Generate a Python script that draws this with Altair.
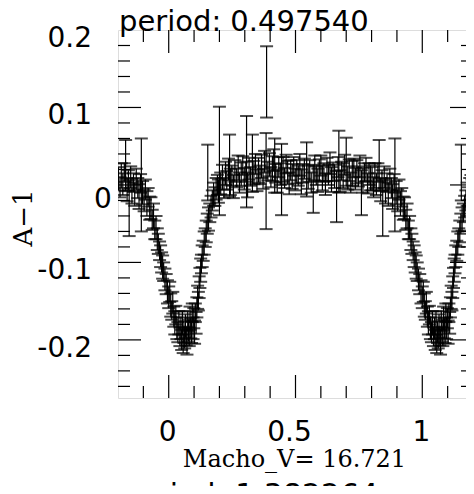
import altair as alt
import pandas as pd

# ---- light-curve data (base phase 0..1), delta-mag and error ----
# eclipse bottom
ph_c = [0.000, 0.004, 0.008, 0.012, 0.016, 0.020, 0.024, 0.028, 0.032, 0.036, 0.040, 0.044,
        0.048, 0.051, 0.054, 0.057, 0.060, 0.063, 0.066, 0.069, 0.072, 0.075, 0.078, 0.081,
        0.084, 0.087, 0.090, 0.093]
dm_c = [-0.145, -0.138, -0.155, -0.162, -0.152, -0.170, -0.178, -0.168, -0.185, -0.190, -0.178, -0.196,
        -0.185, -0.200, -0.178, -0.205, -0.190, -0.198, -0.182, -0.195, -0.203, -0.176, -0.188, -0.196,
        -0.172, -0.185, -0.190, -0.165]
er_c = [0.014, 0.013, 0.015, 0.012, 0.014, 0.013, 0.015, 0.012, 0.014, 0.013, 0.015, 0.012,
        0.014, 0.013, 0.015, 0.012, 0.014, 0.013, 0.015, 0.012, 0.016, 0.013, 0.014, 0.012,
        0.015, 0.013, 0.014, 0.012]
# egress
ph_e = [0.096, 0.099, 0.102, 0.105, 0.108, 0.111, 0.114, 0.117, 0.120, 0.123, 0.126, 0.129, 0.132,
        0.136, 0.140, 0.144, 0.148, 0.152, 0.154, 0.157, 0.162, 0.167, 0.172, 0.177, 0.182, 0.187,
        0.192, 0.196, 0.200]
dm_e = [-0.185, -0.172, -0.190, -0.165, -0.178, -0.158, -0.145, -0.150, -0.132, -0.120, -0.110, -0.102, -0.092,
        -0.085, -0.075, -0.068, -0.060, -0.050, 0.016, -0.044, -0.036, -0.028, -0.020, -0.012, -0.015, -0.005,
        0.000, -0.008, 0.031]
er_e = [0.014, 0.013, 0.015, 0.012, 0.014, 0.013, 0.015, 0.012, 0.014, 0.013, 0.015, 0.012, 0.014,
        0.013, 0.015, 0.012, 0.014, 0.013, 0.036, 0.015, 0.012, 0.014, 0.013, 0.015, 0.012, 0.014,
        0.013, 0.015, 0.070]
# out of eclipse
ph_f = [0.205, 0.212, 0.218, 0.224, 0.229, 0.236, 0.243, 0.249, 0.255, 0.261,
        0.268, 0.274, 0.279, 0.286, 0.292, 0.298, 0.304, 0.311, 0.317, 0.323,
        0.336, 0.342, 0.348, 0.354, 0.360, 0.366, 0.372, 0.378, 0.391, 0.397,
        0.403, 0.409, 0.414, 0.422, 0.428, 0.434, 0.440, 0.451, 0.457, 0.463,
        0.469, 0.475, 0.481, 0.487, 0.493, 0.499, 0.505, 0.511, 0.517, 0.523,
        0.529, 0.535, 0.550, 0.556, 0.562, 0.576, 0.582, 0.588, 0.594, 0.600,
        0.606, 0.612, 0.618, 0.624, 0.630, 0.636, 0.642, 0.648, 0.654, 0.668,
        0.676, 0.682, 0.688, 0.694, 0.706, 0.712, 0.718, 0.724, 0.730, 0.736,
        0.742, 0.748, 0.754, 0.766, 0.772, 0.778, 0.784, 0.790, 0.796]
dm_f = [0.002, 0.010, -0.004, 0.015, 0.006, 0.020, 0.004, 0.012, -0.002, 0.018,
        0.009, 0.022, 0.003, 0.014, 0.025, 0.008, 0.017, 0.000, 0.021, 0.011,
        0.016, 0.027, 0.006, 0.019, 0.013, 0.024, 0.008, 0.030, 0.018, 0.026,
        0.010, 0.021, 0.032, 0.015, 0.005, 0.023, 0.014, 0.020, 0.009, 0.027,
        0.016, 0.002, 0.019, 0.011, 0.024, 0.007, 0.017, 0.012, 0.026, 0.004,
        0.015, 0.021, 0.010, 0.018, 0.003, 0.022, 0.012, 0.006, 0.019, 0.025,
        0.009, 0.016, 0.001, 0.020, 0.013, 0.028, 0.007, 0.017, 0.011, 0.023,
        0.005, 0.018, 0.012, 0.026, 0.009, 0.019, 0.003, 0.015, 0.022, 0.008,
        0.017, 0.011, 0.024, 0.006, 0.016, 0.020, 0.002, 0.014, 0.009]
er_f = [0.014, 0.016, 0.013, 0.015, 0.012, 0.014, 0.017, 0.013, 0.015, 0.014,
        0.012, 0.016, 0.013, 0.015, 0.012, 0.014, 0.013, 0.016, 0.014, 0.012,
        0.015, 0.013, 0.014, 0.016, 0.012, 0.015, 0.013, 0.014, 0.012, 0.015,
        0.013, 0.016, 0.014, 0.012, 0.015, 0.013, 0.014, 0.016, 0.013, 0.012,
        0.015, 0.014, 0.013, 0.016, 0.012, 0.014, 0.015, 0.013, 0.014, 0.016,
        0.012, 0.013, 0.015, 0.014, 0.013, 0.016, 0.012, 0.015, 0.014, 0.013,
        0.016, 0.012, 0.014, 0.015, 0.013, 0.014, 0.016, 0.012, 0.015, 0.013,
        0.014, 0.012, 0.016, 0.013, 0.015, 0.014, 0.013, 0.016, 0.012, 0.014,
        0.015, 0.013, 0.014, 0.016, 0.012, 0.015, 0.013, 0.014, 0.016]
# large-error points
ph_o = [0.240, 0.307, 0.330, 0.384, 0.386, 0.418, 0.445, 0.544, 0.570, 0.662, 0.671, 0.700, 0.760]
dm_o = [0.025, 0.030, 0.028, 0.005, 0.133, 0.025, 0.007, 0.020, -0.005, -0.015, 0.030, 0.030, -0.010]
er_o = [0.040, 0.059, 0.037, 0.062, 0.046, 0.035, 0.046, 0.035, 0.031, 0.033, 0.040, 0.031, 0.029]
# pre-ingress
ph_a = [0.802, 0.808, 0.813, 0.819, 0.825, 0.830, 0.836, 0.841, 0.844, 0.850, 0.855, 0.861,
        0.866, 0.872, 0.878, 0.883, 0.889, 0.892, 0.897, 0.903, 0.908, 0.914, 0.919, 0.925]
dm_a = [0.008, -0.003, 0.012, 0.001, 0.016, 0.025, -0.006, 0.006, -0.030, 0.010, -0.008, 0.003,
        -0.012, 0.007, -0.004, -0.015, 0.002, 0.000, -0.010, -0.020, -0.006, -0.024, -0.016, -0.030]
er_a = [0.015, 0.013, 0.016, 0.014, 0.012, 0.033, 0.015, 0.013, 0.036, 0.014, 0.016, 0.012,
        0.015, 0.014, 0.013, 0.016, 0.012, 0.060, 0.015, 0.014, 0.013, 0.016, 0.012, 0.015]
# ingress
ph_b = [0.930, 0.935, 0.940, 0.945, 0.950, 0.955, 0.959, 0.964, 0.968, 0.972, 0.976, 0.980, 0.985, 0.990, 0.995]
dm_b = [-0.030, -0.045, -0.040, -0.058, -0.055, -0.070, -0.076, -0.085, -0.092, -0.100, -0.106, -0.112,
        -0.122, -0.128, -0.138]
er_b = [0.014, 0.013, 0.016, 0.012, 0.015, 0.014, 0.013, 0.012, 0.014, 0.013, 0.015, 0.012, 0.014, 0.013, 0.015]

# ---- axis ticks / labels ----
x_minor = [-0.1, 0.1, 0.2, 0.3, 0.4, 0.6, 0.7, 0.8, 0.9, 1.1]
x_major = [0, 0.5, 1]
y_minor = [-0.26, -0.24, -0.22, -0.18, -0.16, -0.14, -0.12, -0.08, -0.06, -0.04, -0.02,
           0.02, 0.04, 0.06, 0.08, 0.12, 0.14, 0.16, 0.18]
y_major = [-0.2, -0.1, 0, 0.1]
x_label_vals = [0, 1]
x_label_txt = ["0", "1"]
x_mid_val = [0.5]
x_mid_txt = ["0.5"]
y_label_vals = [0.2, 0.1, -0.1, -0.2]
y_label_txt = ["0.2", "0.1", "-0.1", "-0.2"]
y_zero_val = [0]
y_zero_txt = ["0"]
title_top = "period: 0.497540"
title_bottom = "period: 1.382264"
x_title = "Macho_V= 16.721"
y_title = "A\u22121"

phase = ph_c + ph_e + ph_f + ph_o + ph_a + ph_b
dmag = dm_c + dm_e + dm_f + dm_o + dm_a + dm_b
err = er_c + er_e + er_f + er_o + er_a + er_b
assert len(phase) == len(dmag) == len(err)

rows = []
for p, v, e in zip(phase, dmag, err):
    for s in (-1, 0, 1):
        q = p + s
        if -0.2 <= q <= 1.2:
            rows.append({"phase": q, "lo": v - e, "hi": v + e})
df = pd.DataFrame(rows)

W, H = 355, 368
MAJ, MIN = 23, 12
xs = alt.Scale(domain=[-0.2, 1.2], nice=False, zero=False)
ys = alt.Scale(domain=[-0.275, 0.2], nice=False, zero=False)
SANS, SERIF = "DejaVu Sans", "DejaVu Serif"

base = alt.Chart(df)
bars = base.mark_rule(color="black", strokeWidth=1.2, clip=True).encode(
    x=alt.X("phase:Q", scale=xs, axis=None),
    y=alt.Y("lo:Q", scale=ys, axis=None),
    y2="hi:Q",
)
cap_lo = base.mark_tick(orient="horizontal", size=13, thickness=2, color="black", clip=True).encode(
    x=alt.X("phase:Q", scale=xs, axis=None), y=alt.Y("lo:Q", scale=ys, axis=None))
cap_hi = base.mark_tick(orient="horizontal", size=13, thickness=2, color="black", clip=True).encode(
    x=alt.X("phase:Q", scale=xs, axis=None), y=alt.Y("hi:Q", scale=ys, axis=None))


def xticks(vals, y0, y1):
    return alt.Chart(pd.DataFrame({"v": vals})).mark_rule(color="black", strokeWidth=1.2).encode(
        x=alt.X("v:Q", scale=xs, axis=None), y=alt.value(y0), y2=alt.value(y1))


def yticks(vals, x0, x1):
    return alt.Chart(pd.DataFrame({"v": vals})).mark_rule(color="black", strokeWidth=1.2).encode(
        y=alt.Y("v:Q", scale=ys, axis=None), x=alt.value(x0), x2=alt.value(x1))


ticks = [
    xticks(x_minor, H, H - MIN), xticks(x_major, H, H - MAJ),
    xticks(x_minor, 0, MIN), xticks(x_major, 0, MAJ),
    yticks(y_minor, 0, MIN), yticks(y_major, 0, MAJ),
    yticks(y_minor, W, W - MIN), yticks(y_major, W, W - MAJ),
]


def xlabels(vals, txt, dx):
    return alt.Chart(pd.DataFrame({"v": vals, "t": txt})).mark_text(
        align="center", baseline="alphabetic", font=SANS, fontSize=28, color="black", dx=dx, dy=43
    ).encode(x=alt.X("v:Q", scale=xs, axis=None), y=alt.value(H), text="t:N")


def ylabels(vals, txt, align, dx, dy):
    return alt.Chart(pd.DataFrame({"v": vals, "t": txt})).mark_text(
        align=align, baseline="middle", font=SANS, fontSize=28, color="black", dx=dx, dy=dy
    ).encode(y=alt.Y("v:Q", scale=ys, axis=None), x=alt.value(0), text="t:N")


def label(txt, x, y, font, size, align="center", baseline="alphabetic", angle=0):
    return alt.Chart(pd.DataFrame({"t": [txt]})).mark_text(
        align=align, baseline=baseline, font=font, fontSize=size, color="black", angle=angle
    ).encode(text="t:N", x=alt.value(x), y=alt.value(y))


texts = [
    xlabels(x_label_vals, x_label_txt, -1),
    xlabels(x_mid_val, x_mid_txt, -6),
    ylabels(y_label_vals, y_label_txt, "right", -26, 9),
    ylabels(y_zero_val, y_zero_txt, "center", -15, 15),
    label(x_title, W / 2 - 1, H + 69, SERIF, 24),
    label(y_title, -94, H / 2 + 4, SERIF, 26, baseline="middle", angle=270),
    label(title_top, 1, 1, SANS, 29, align="left"),
    label(title_bottom, 2, 475, SANS, 30, align="left"),
]

chart = alt.layer(bars, cap_lo, cap_hi, *ticks, *texts).properties(
    width=W, height=H,
    padding={"left": 110, "top": 22, "right": -7, "bottom": 88},
    autosize=alt.AutoSizeParams(type="none"),
).configure_view(stroke="black", strokeWidth=1.5).configure(background="white")

chart.save("out.html", embed_options={"renderer": "svg", "actions": False})
